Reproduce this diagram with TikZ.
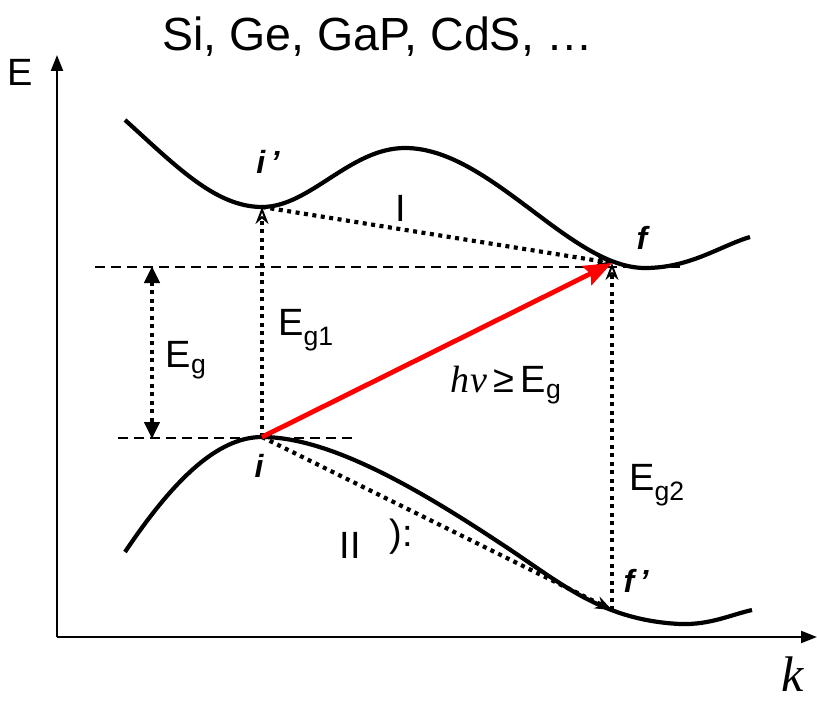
\documentclass[tikz,border=0pt]{standalone}
\usepackage{fontspec}
\setmainfont{Liberation Sans}
\newfontfamily\serifit{Liberation Serif}
\usetikzlibrary{arrows.meta}
\tikzset{
  band/.style={line width=4.2pt},
  axis/.style={line width=2.2pt,-{Triangle[length=16pt,width=12pt]}},
  dotline/.style={line width=4.2pt,dash pattern=on 4pt off 4.5pt},
  openhead/.style={-{Stealth[open,length=17pt,width=13pt,line width=2pt]}},
  guide/.style={line width=1.5pt,dash pattern=on 10pt off 6pt},
  lab/.style={font=\fontsize{38}{42}\selectfont, inner sep=0pt},
  pt/.style={font=\fontsize{32}{36}\selectfont\bfseries\itshape, inner sep=0pt},
}
\begin{document}
\begin{tikzpicture}[x=1pt,y=-1pt]
\useasboundingbox (0,0) rectangle (817,701);
% key points
\coordinate (ip) at (262,207);
\coordinate (f) at (612,263);
\coordinate (i) at (262,437);
\coordinate (fp) at (612,610);
\coordinate (o) at (57,637);
\coordinate (ytop) at (57,55);
\coordinate (xend) at (817,637);
\coordinate (g1a) at (95,267);
\coordinate (g1b) at (680,267);
\coordinate (g2a) at (118,438);
\coordinate (g2b) at (355,438);
\coordinate (ega) at (152,266);
\coordinate (egb) at (152,439);
% axes
\draw[axis] (o) -- (ytop);
\draw[axis] (o) -- (xend);
% guides
\draw[guide] (g1a) -- (g1b);
\draw[guide] (g2a) -- (g2b);
% bands
\draw[band] (125,120) .. controls (175,165) and (215,207) .. (ip)
  .. controls (310,207) and (350,148) .. (405,148)
  .. controls (490,148) and (570,268) .. (645,268)
  .. controls (690,268) and (720,246) .. (750,237);
\draw[band] (125,552) .. controls (170,485) and (215,437) .. (i)
  .. controls (330,437) and (420,490) .. (500,543)
  .. controls (560,582) and (600,620) .. (680,624)
  .. controls (710,625) and (730,615) .. (752,610);
% transitions
\draw[dotline,{Triangle[length=17pt,width=15pt]}-{Triangle[length=17pt,width=15pt]}] (ega) -- (egb);
\draw[dotline,openhead] (i) -- (ip);
\draw[dotline,openhead] (ip) -- (f);
\draw[dotline,openhead] (fp) -- (f);
\draw[dotline,openhead] (i) -- (fp);
\draw[red,line width=4.8pt,-{Stealth[length=28pt,width=21pt,inset=4pt]}] (i) -- (f);
% labels
\node (title) at (378,37) {\fontsize{46.5}{50}\selectfont Si, Ge, GaP, CdS, \ldots};
\node[lab] (E) at (20,72) {E};
\node[inner sep=0pt] (k) at (793,674) {\fontsize{50}{54}\selectfont\serifit\itshape k};
\node[pt] (lip) at (268,162) {i\,'};
\node[pt] (lf) at (642,238) {f};
\node[pt] (li) at (259,466) {i};
\node[pt] (lfp) at (636,581) {f\,'};
\node[lab] (lI) at (401,208) {I};
\node[lab] (lII) at (350,545) {II};
\node[lab] (lpar) at (401,537) {):};
\node[lab] (Eg) at (186,360) {E$_{\mathrm{g}}$};
\node[lab] (Eg1) at (306,330) {E$_{\mathrm{g1}}$};
\node[lab] (Eg2) at (657,485) {E$_{\mathrm{g2}}$};
\node[lab] (hv) at (506,385) {{\serifit\itshape h\hspace{1pt}ν}\,≥\,E$_{\mathrm{g}}$};
\end{tikzpicture}
\end{document}
